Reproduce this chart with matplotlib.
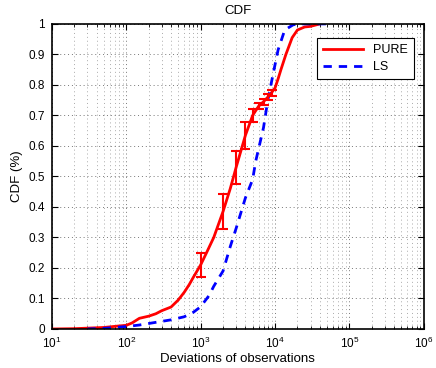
import numpy as np
from matplotlib import pyplot as plt
from matplotlib.ticker import LogLocator, FixedLocator

plt.rcParams['font.family'] = ['Liberation Sans', 'DejaVu Sans']

# PURE curve
pure_x = [10, 20, 50, 80, 100, 120, 150, 200, 250, 300, 400, 500, 600, 700, 800,
          1000, 1200, 1500, 2000, 2500, 3000, 4000, 5000, 6000, 7000, 8000, 9000,
          10000, 11000, 12000, 14000, 17000, 20000, 25000, 30000, 40000]
pure_y = [0, 0.001, 0.005, 0.01, 0.012, 0.02, 0.035, 0.042, 0.05, 0.06, 0.072, 0.095,
          0.12, 0.145, 0.17, 0.21, 0.25, 0.30, 0.385, 0.46, 0.53, 0.635, 0.70, 0.73,
          0.745, 0.76, 0.775, 0.79, 0.82, 0.85, 0.90, 0.955, 0.98, 0.99, 0.992, 1.0]

# error bars on PURE
err_x = [1000, 2000, 3000, 4000, 5000, 6000, 7000, 8000, 9000]
err_y = [0.21, 0.385, 0.53, 0.635, 0.70, 0.73, 0.745, 0.76, 0.775]
err_e = [0.038, 0.058, 0.055, 0.045, 0.02, 0.01, 0.01, 0.01, 0.01]

# LS curve
ls_x = [30, 50, 100, 150, 200, 300, 400, 600, 800, 1000, 1300, 1500, 2000, 2500,
        3000, 4000, 5000, 5500, 7000, 8000, 9500, 11000, 13500, 17500, 20000, 50000]
ls_y = [0, 0.002, 0.008, 0.013, 0.018, 0.025, 0.03, 0.04, 0.055, 0.073, 0.11, 0.14,
        0.19, 0.27, 0.33, 0.43, 0.49, 0.55, 0.66, 0.75, 0.84, 0.915, 0.98, 0.997,
        1.0, 1.0]

fig = plt.figure(figsize=(4.36, 3.68), dpi=100)
ax = fig.add_axes([0.119, 0.106, 0.853, 0.829])

ax.plot(pure_x, pure_y, color='red', lw=2, label='PURE')
ax.plot(ls_x, ls_y, color='blue', lw=2, ls=(0, (3, 2.5)), label='LS')
ax.errorbar(err_x, err_y, yerr=err_e, fmt='none', ecolor='red', elinewidth=1.5,
            capsize=3.5, capthick=1.5)

ax.set_xscale('log')
ax.set_xlim(10, 1e6)
ax.set_ylim(0, 1)
ax.yaxis.set_major_locator(FixedLocator(np.arange(0, 1.01, 0.1)))
ax.set_yticklabels(['0', '0.1', '0.2', '0.3', '0.4', '0.5', '0.6', '0.7', '0.8', '0.9', '1'])
ax.xaxis.set_minor_locator(LogLocator(base=10, subs=np.arange(2, 10), numticks=20))

# matlab style dotted grid
ax.grid(True, which='major', ls=(0, (1, 3)), color='#777777', lw=0.7)
ax.grid(True, which='minor', axis='x', ls=(0, (1, 3)), color='#aaaaaa', lw=0.7)
ax.tick_params(which='both', direction='in', top=True, right=True, labelsize=8.5)
ax.tick_params(which='major', length=4)
ax.tick_params(which='minor', length=2)
ax.tick_params(axis='y', pad=5)
ax.tick_params(axis='x', pad=5)
for s in ax.spines.values():
    s.set_linewidth(1.2)

ax.set_title('CDF', fontsize=9.5, pad=7)
ax.set_xlabel('Deviations of observations', fontsize=9.5, labelpad=1)
ax.set_ylabel('CDF (%)', fontsize=9.5)

leg = ax.legend(loc='upper right', bbox_to_anchor=(0.99, 0.975), fontsize=9,
                fancybox=False, framealpha=1, edgecolor='black', handlelength=3.2,
                borderpad=0.5, labelspacing=0.4)
leg.get_frame().set_linewidth(0.8)

fig.savefig('out.png', dpi=100)
